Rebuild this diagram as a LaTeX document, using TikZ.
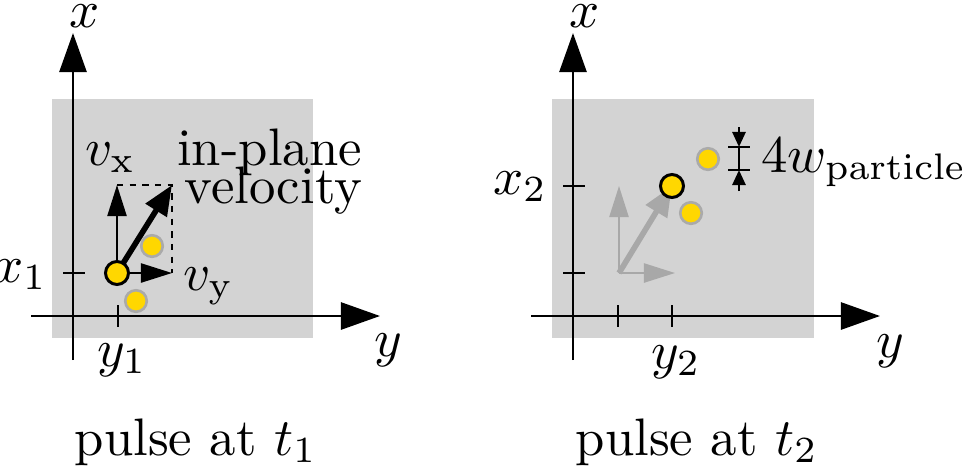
\documentclass[tikz,border=0pt]{standalone}
\usetikzlibrary{arrows.meta}
\definecolor{gold}{RGB}{255,215,0}
\definecolor{bggray}{RGB}{211,211,211}
\definecolor{ghost}{RGB}{168,168,168}
\definecolor{ring}{RGB}{170,170,170}
\begin{document}
\begin{tikzpicture}[x=0.01cm,y=-0.01cm,
  lbl/.style={scale=1.5, inner sep=0pt},
  axis/.style={line width=0.75pt, -{Triangle[length=0.39cm,width=0.27cm]}},
  tick/.style={line width=0.75pt},
  comp/.style={line width=0.65pt, -{Triangle[length=0.31cm,width=0.19cm]}},
  vel/.style={line width=1.6pt, -{Triangle[length=0.3cm,width=0.24cm]}},
  meas/.style={line width=0.75pt, -{Triangle[length=0.15cm,width=0.13cm]}},
  guide/.style={line width=0.6pt, dash pattern=on 1.8pt off 1.8pt},
  mainp/.style={circle, draw=black, line width=0.85pt, fill=gold, minimum size=0.23cm, inner sep=0pt},
  otherp/.style={circle, draw=ring, line width=0.75pt, fill=gold, minimum size=0.215cm, inner sep=0pt},
  panel/.style={fill=bggray, draw=none}]
\useasboundingbox (0,0) rectangle (969,466);
% ---------- left panel ----------
\fill[panel] (52,99) rectangle (313,338);
\coordinate (A1s) at (73,360); \coordinate (A1e) at (73,33);
\coordinate (B1s) at (31,316); \coordinate (B1e) at (380,316);
\draw[axis] (A1s) -- (A1e);
\draw[axis] (B1s) -- (B1e);
\draw[tick] (63,273) -- (85,273);
\draw[tick] (118,305) -- (118,327);
\coordinate (o1) at (117,273);
\coordinate (vx1) at (117,185);
\coordinate (vy1) at (172,273);
\coordinate (v1) at (172,185);
\draw[guide] (vx1) -- (v1) -- (vy1);
\draw[comp] (o1) -- (vx1);
\draw[comp] (o1) -- (vy1);
\draw[vel] (o1) -- (v1);
\node[otherp] (q1a) at (152,246) {};
\node[otherp] (q1b) at (136,301) {};
\node[mainp] (p1) at (o1) {};
\node[lbl, anchor=base] (lx1) at (85,27) {$x$};
\node[lbl, anchor=base] (ly1) at (388,356) {$y$};
\node[lbl, anchor=base east] (lxa) at (48,282) {$x_1$};
\node[lbl, anchor=base] (lya) at (122,366) {$y_1$};
\node[lbl, anchor=base west] (lvx) at (84,165) {$v_\mathrm{x}$};
\node[lbl, anchor=base west] (lvy) at (182,290) {$v_\mathrm{y}$};
\node[lbl, anchor=base east] (lvel1) at (363,165) {in-plane};
\node[lbl, anchor=base east] (lvel2) at (363,203) {velocity};
\node[lbl, anchor=base] (cap1) at (196,455) {pulse at $t_1$};
% ---------- right panel ----------
\fill[panel] (552,99) rectangle (814,338);
\coordinate (A2s) at (573,360); \coordinate (A2e) at (573,33);
\coordinate (B2s) at (531,316); \coordinate (B2e) at (880,316);
\draw[axis] (A2s) -- (A2e);
\draw[axis] (B2s) -- (B2e);
\draw[tick] (563,186) -- (585,186);
\draw[tick] (563,273) -- (585,273);
\draw[tick] (618,305) -- (618,327);
\draw[tick] (672,305) -- (672,327);
\coordinate (o2) at (619,273);
\coordinate (vx2) at (619,186);
\coordinate (vy2) at (675,273);
\coordinate (c2) at (672,186);
\draw[comp, ghost] (o2) -- (vx2);
\draw[comp, ghost] (o2) -- (vy2);
\draw[vel, ghost] (o2) -- (c2);
\node[otherp] (q2a) at (708,159) {};
\node[otherp] (q2b) at (691,213) {};
\node[mainp] (p2) at (c2) {};
% measurement marker
\coordinate (m0) at (739,127);
\coordinate (m1) at (739,147);
\coordinate (m2) at (739,170);
\coordinate (m3) at (739,191);
\draw[meas] (m0) -- (m1);
\draw[tick] (m1) -- (m2);
\draw[meas] (m3) -- (m2);
\draw[tick] (728,147) -- (750,147);
\draw[tick] (728,170) -- (750,170);
\node[lbl, anchor=base west] (lw) at (760,172) {$4w_\mathrm{particle}$};
\node[lbl, anchor=base] (lx2) at (585,27) {$x$};
\node[lbl, anchor=base] (ly2) at (890,357) {$y$};
\node[lbl, anchor=base east] (lxb) at (548,194) {$x_2$};
\node[lbl, anchor=base] (lyb) at (676,368) {$y_2$};
\node[lbl, anchor=base] (cap2) at (697,455) {pulse at $t_2$};
\end{tikzpicture}
\end{document}
